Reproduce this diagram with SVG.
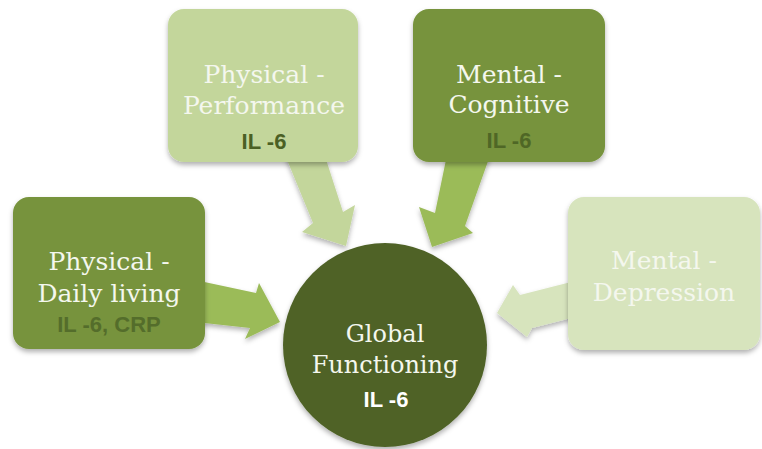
<svg xmlns="http://www.w3.org/2000/svg" width="762" height="449" viewBox="0 0 762 449">
  <defs>
    <filter id="shadow" x="-10%" y="-10%" width="120%" height="130%">
      <feDropShadow dx="0" dy="3" stdDeviation="2.5" flood-color="#000" flood-opacity="0.3"/>
    </filter>
  </defs>
  <style>
    .title { font-family: "DejaVu Serif", "Liberation Serif", serif; font-size: 25px; fill: #f4f7ee; text-anchor: middle; }
    .center { font-size: 24px; }
    .tag { font-family: "Liberation Sans", Arial, sans-serif; font-size: 22px; font-weight: bold; text-anchor: middle; }
    .box { filter: url(#shadow); }
    .arrow { filter: url(#shadow); }
  </style>
  <rect width="762" height="449" fill="#ffffff"/>

  <!-- block arrows pointing into the central circle -->
  <g id="connectors">
    <polygon class="arrow" fill="#c3d69b" points="283,150 323,150 343,212 355,205 346,246 302,232 313,223"/>
    <polygon class="arrow" fill="#9bbb59" points="448,150 492,150 465,226 473,233 432,247 419,207 435,213"/>
    <polygon class="arrow" fill="#9bbb59" points="195,280 256,293 259,283 280,322 245,339 250,328 195,322"/>
    <polygon class="arrow" fill="#d7e4bd" points="575,281 520,295 513,285 497,313 527,337 532,328 575,317"/>
  </g>

  <g id="physical-performance">
    <rect class="box" x="168" y="9" width="190" height="153" rx="16" fill="#c3d69b"/>
    <text class="title" x="264" y="83">Physical -</text>
    <text class="title" x="264" y="114">Performance</text>
    <text class="tag" x="264" y="149" fill="#4b6024">IL -6</text>
  </g>

  <g id="mental-cognitive">
    <rect class="box" x="413" y="9" width="192" height="153" rx="16" fill="#77933c"/>
    <text class="title" x="509" y="83">Mental -</text>
    <text class="title" x="509" y="113">Cognitive</text>
    <text class="tag" x="509" y="148" fill="#4f6726">IL -6</text>
  </g>

  <g id="physical-daily-living">
    <rect class="box" x="13" y="197" width="192" height="152" rx="16" fill="#77933c"/>
    <text class="title" x="109" y="270">Physical -</text>
    <text class="title" x="109" y="302">Daily living</text>
    <text class="tag" x="109" y="332" fill="#546d2b">IL -6, CRP</text>
  </g>

  <g id="mental-depression">
    <rect class="box" x="568" y="197" width="192" height="153" rx="16" fill="#d7e4bd"/>
    <text class="title" x="664" y="269">Mental -</text>
    <text class="title" x="664" y="301">Depression</text>
  </g>

  <g id="global-functioning">
    <circle class="box" cx="385" cy="345" r="102" fill="#4f6228"/>
    <text class="title center" x="385" y="342">Global</text>
    <text class="title center" x="385" y="373">Functioning</text>
    <text class="tag" x="386" y="407" fill="#ffffff">IL -6</text>
  </g>
</svg>
